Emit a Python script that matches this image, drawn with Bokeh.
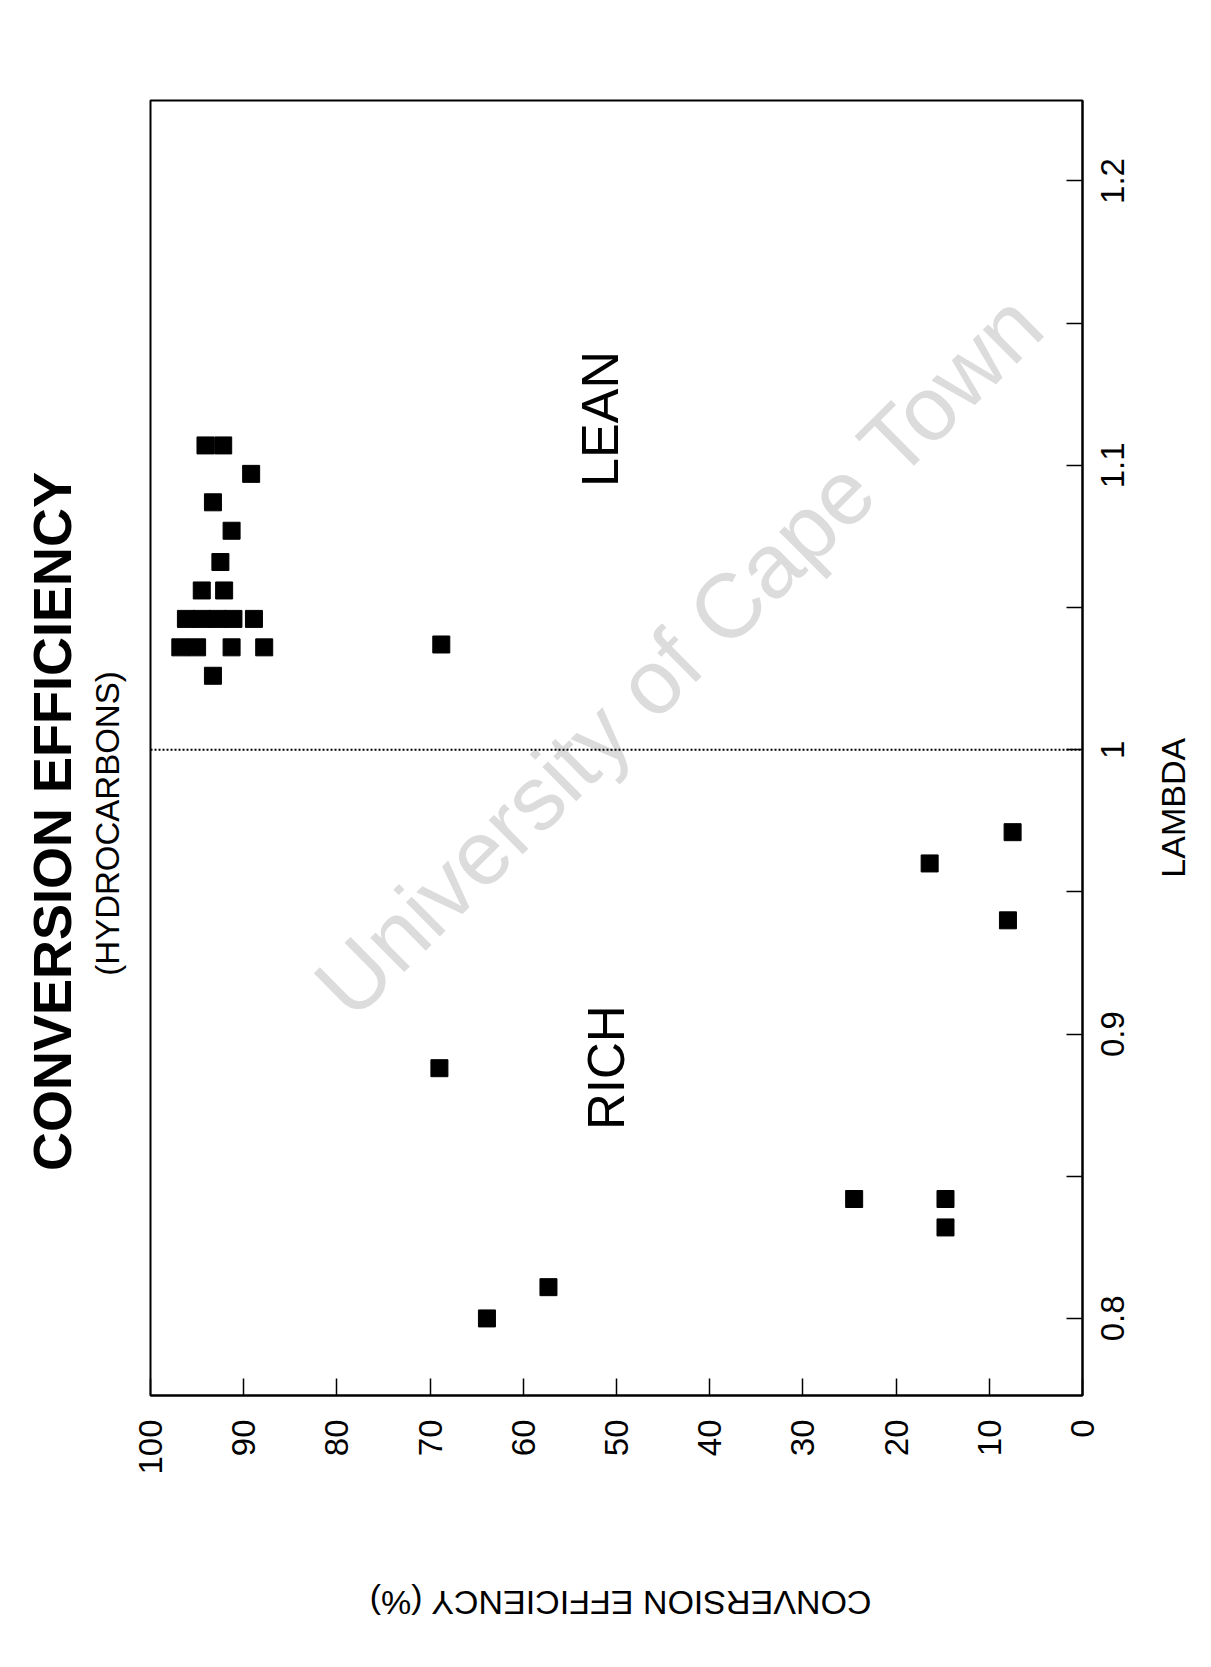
import math
from bokeh.plotting import figure
from bokeh.layouts import row, column
from bokeh.models import Range1d, FixedTicker, Span, Label
from bokeh.core.properties import value
from bokeh.embed import file_html
from bokeh.resources import INLINE

# ---- data ----
efficiency = [94.1, 92.2, 89.2, 93.3, 91.3, 92.5, 94.5, 92.1,
              96.2, 94.5, 92.8, 91.1, 88.9,
              96.8, 95.0, 91.3, 87.8, 93.3,
              68.8, 69.0, 57.3, 63.9, 24.5, 14.7, 14.7, 16.4, 7.5, 8.0]
lambda_vals = [1.107, 1.107, 1.097, 1.087, 1.077, 1.066, 1.056, 1.056,
               1.046, 1.046, 1.046, 1.046, 1.046,
               1.036, 1.036, 1.036, 1.036, 1.026,
               1.037, 0.888, 0.811, 0.800, 0.842, 0.842, 0.832, 0.960, 0.971, 0.940]

eff_ticks = [0, 10, 20, 30, 40, 50, 60, 70, 80, 90, 100]
eff_tick_labels = ["0", "10", "20", "30", "40", "50", "60", "70", "80", "90", "100"]
lambda_ticks = [0.8, 0.9, 1.0, 1.1, 1.2]
lambda_tick_labels = ["0.8", "0.9", "1", "1.1", "1.2"]
lambda_minor_ticks = [0.85, 0.95, 1.05, 1.15]
stoich_lambda = 1.0

title_text = "CONVERSION EFFICIENCY"
subtitle_text = "(HYDROCARBONS)"
x_label = "CONVERSION EFFICIENCY (%)"
y_label = "LAMBDA"

FONT = "Liberation Sans"

# ---- layout geometry (pixels) ----
LEFT_W, MAIN_W, RIGHT_W = 130, 956, 124
TOP_H, BOTTOM_H = 1400, 266
FRAME_L, FRAME_W = 20, 932          # frame inside the main figure
FRAME_TOP, FRAME_BOTTOM = 100, 5
EFF_MAX, EFF_MIN = 100, 0
PX_PER_UNIT = FRAME_W / (EFF_MAX - EFF_MIN)


def strip(w, h, x_range=None, y_range=None, top=0, bottom=0):
    f = figure(width=w, height=h, output_backend="svg", toolbar_location=None,
               x_range=x_range if x_range is not None else Range1d(0, w),
               y_range=y_range if y_range is not None else Range1d(0, h),
               x_axis_type=None, y_axis_type=None,
               min_border=0, min_border_left=0, min_border_right=0,
               min_border_top=top, min_border_bottom=bottom)
    f.outline_line_color = None
    f.background_fill_color = "white"
    f.border_fill_color = "white"
    return f


# ---- main chart ----
p = figure(width=MAIN_W, height=TOP_H, output_backend="svg", toolbar_location=None,
           x_range=Range1d(EFF_MAX, EFF_MIN), y_range=Range1d(0.7729, 1.2283),
           x_axis_location="below", y_axis_location="right",
           min_border_left=FRAME_L, min_border_right=MAIN_W - FRAME_L - FRAME_W,
           min_border_top=FRAME_TOP, min_border_bottom=FRAME_BOTTOM)

p.xgrid.visible = False
p.ygrid.visible = False
p.background_fill_color = "white"
p.border_fill_color = "white"
p.outline_line_color = "black"
p.outline_line_width = 2

xa = p.xaxis[0]
xa.ticker = FixedTicker(ticks=eff_ticks, minor_ticks=[])
xa.axis_line_width = 2
xa.major_tick_in = 17
xa.major_tick_out = 0
xa.major_tick_line_width = 1.5
xa.minor_tick_in = 0
xa.minor_tick_out = 0
xa.major_label_standoff = 0
xa.major_label_text_color = None      # labels drawn in the bottom strip
xa.major_label_text_font_size = "1px"

ya = p.yaxis[0]
ya.ticker = FixedTicker(ticks=lambda_ticks, minor_ticks=lambda_minor_ticks)
ya.axis_line_width = 2
ya.major_tick_in = 16
ya.major_tick_out = 0
ya.minor_tick_in = 16
ya.minor_tick_out = 0
ya.major_tick_line_width = 1.5
ya.minor_tick_line_width = 1.5
ya.minor_tick_line_color = "black"
ya.major_label_standoff = 0
ya.major_label_text_color = None      # labels drawn centred in the right strip
ya.major_label_text_font_size = "1px"

# watermark
p.add_layout(Label(x=43.3, y=1.0334, text="University of Cape Town", angle=0.782,
                   text_align="center", text_baseline="middle",
                   text_font=FONT, text_font_size="91px", text_color="#dcdcdc",
                   level="underlay"))

# stoichiometric line
p.add_layout(Span(location=stoich_lambda, dimension="width", line_color="black",
                  line_width=2, line_dash="2 2"))

# data points
p.scatter(efficiency, lambda_vals, marker="square", size=17, color="black")

# region labels
p.add_layout(Label(x=51.8, y=1.1163, text="LEAN", angle=math.pi / 2,
                   text_align="center", text_baseline="middle",
                   text_font=FONT, text_font_size="52px", text_color="black"))
p.add_layout(Label(x=51.1, y=0.8882, text="RICH", angle=math.pi / 2,
                   text_align="center", text_baseline="middle",
                   text_font=FONT, text_font_size="51px", text_color="black"))

# ---- left strip: rotated title and subtitle ----
TOTAL_H = TOP_H + BOTTOM_H
left = strip(LEFT_W, TOTAL_H)
left.text(x=[51], y=[TOTAL_H - 821], text=[title_text], angle=math.pi / 2,
          text_align="center", text_baseline="middle",
          text_font=value(FONT), text_font_size=value("54px"),
          text_font_style="bold", text_color="black")
left.text(x=[107], y=[TOTAL_H - 823], text=[subtitle_text], angle=math.pi / 2,
          text_align="center", text_baseline="middle",
          text_font=value(FONT), text_font_size=value("33px"), text_color="black")

# ---- right strip: lambda tick labels (centred on ticks) and axis title ----
right = strip(RIGHT_W, TOP_H, y_range=p.y_range, top=FRAME_TOP, bottom=FRAME_BOTTOM)
right.text(x=[26] * len(lambda_ticks), y=lambda_ticks, text=lambda_tick_labels,
           angle=math.pi / 2, text_align="center", text_baseline="middle",
           text_font=value(FONT), text_font_size=value("33px"), text_color="black")
right.text(x=[86.5], y=[0.9796], text=[y_label], angle=math.pi / 2,
           text_align="center", text_baseline="middle",
           text_font=value(FONT), text_font_size=value("34px"), text_color="black")

# ---- bottom strip: efficiency tick labels and upside-down axis title ----
# same horizontal scale as the main frame, stretched over the whole strip
strip_x = Range1d(EFF_MAX + FRAME_L / PX_PER_UNIT,
                  EFF_MAX - (MAIN_W + RIGHT_W - FRAME_L) / PX_PER_UNIT)
bottom = strip(MAIN_W + RIGHT_W, BOTTOM_H, x_range=strip_x)
bottom.text(x=eff_ticks, y=[BOTTOM_H - 19] * len(eff_ticks), text=eff_tick_labels,
            angle=math.pi / 2, text_align="right", text_baseline="middle",
            text_font=value(FONT), text_font_size=value("33px"), text_color="black")
bottom.text(x=[49.6], y=[BOTTOM_H - 202], text=[x_label], angle=math.pi,
            text_align="center", text_baseline="middle",
            text_font=value(FONT), text_font_size=value("34px"), text_color="black")

layout = row(left, column(row(p, right), bottom))

open("out.html", "w").write(file_html(layout, INLINE))
